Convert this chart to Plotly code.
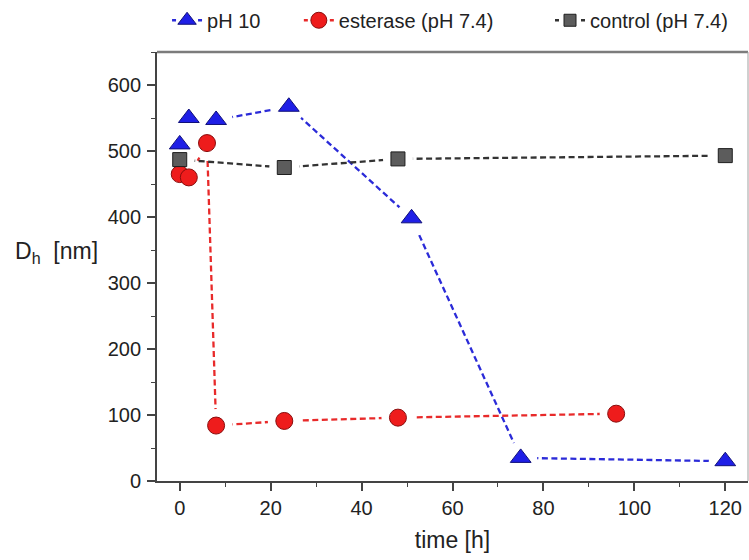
import plotly.graph_objects as go

# Hydrodynamic diameter over time for three conditions
t_ph10 = [0, 2, 8, 24, 51, 75, 120]
d_ph10 = [510, 550, 547, 567, 398, 35, 30]

t_esterase = [0, 2, 6, 8, 23, 48, 96]
d_esterase = [465, 460, 512, 84, 91, 96, 102]

t_control = [0, 23, 48, 120]
d_control = [487, 475, 488, 493]

series_names = ["pH 10", "esterase (pH 7.4)", "control (pH 7.4)"]

FONT = "Liberation Sans, Arial, sans-serif"
series = [
    dict(name=series_names[0], x=t_ph10, y=d_ph10, fill="#1f1fe6", edge="#10107a",
         line="#2b2bd8", symbol="triangle-up", size=18, halo=33, lsize=19,
         legend="legend", lx=0.017),
    dict(name=series_names[1], x=t_esterase, y=d_esterase, fill="#ee1c1c", edge="#8a0c0c",
         line="#e82a2a", symbol="circle", size=17, halo=33, lsize=17,
         legend="legend2", lx=0.24),
    dict(name=series_names[2], x=t_control, y=d_control, fill="#5c5c5c", edge="#1e1e1e",
         line="#333333", symbol="square", size=14, halo=30, lsize=12,
         legend="legend3", lx=0.665),
]

dash = "6px,3.5px"
fig = go.Figure()

# dashed connecting lines; white marker halos (drawn above the trace's own line)
# leave a small gap between the line and each symbol
for s in series:
    fig.add_trace(go.Scatter(x=s["x"], y=s["y"], mode="lines+markers",
                             line=dict(color=s["line"], width=2.3, dash=dash),
                             marker=dict(symbol="circle", size=s["halo"],
                                         color="white", line=dict(width=0)),
                             showlegend=False, hoverinfo="skip"))

# symbols
for s in series:
    fig.add_trace(go.Scatter(x=s["x"], y=s["y"], mode="markers", name=s["name"],
                             marker=dict(symbol=s["symbol"], size=s["size"],
                                         color=s["fill"],
                                         line=dict(color=s["edge"], width=1)),
                             showlegend=False))

# legend entries, one legend per series
for s in series:
    fig.add_trace(go.Scatter(x=[None], y=[None], mode="lines+markers", name=s["name"],
                             legend=s["legend"],
                             line=dict(color=s["line"], width=2.3, dash="4px,22px"),
                             marker=dict(symbol=s["symbol"], size=s["lsize"],
                                         color=s["fill"],
                                         line=dict(color=s["edge"], width=1))))

X_RANGE = [-5, 125]
Y_RANGE = [0, 650]

axis_common = dict(
    showline=True, linecolor="#444444", linewidth=1.8, mirror=False,
    ticks="outside", ticklen=8, tickwidth=1.5, tickcolor="#444444",
    showgrid=False, zeroline=False,
    tickfont=dict(family=FONT, size=20, color="#222222"),
)

legend_common = dict(orientation="h", y=1.074, yanchor="middle", xanchor="left",
                     font=dict(family=FONT, size=20, color="#222222"),
                     bgcolor="rgba(0,0,0,0)", itemwidth=30)

layout_legends = {s["legend"]: dict(x=s["lx"], **legend_common) for s in series}

fig.update_layout(
    width=749, height=560,
    margin=dict(l=157, r=1, t=48, b=79),
    paper_bgcolor="white", plot_bgcolor="white",
    font=dict(family=FONT, color="#222222"),
    xaxis=dict(range=X_RANGE, dtick=20, tick0=0,
               minor=dict(dtick=10, ticks="outside", ticklen=4, tickwidth=1.3,
                          tickcolor="#444444"),
               title=dict(text="time [h]", font=dict(family=FONT, size=23), standoff=14),
               **axis_common),
    yaxis=dict(range=Y_RANGE, dtick=100, tick0=0, ticklabelstandoff=2,
               minor=dict(dtick=50, ticks="outside", ticklen=4, tickwidth=1.3,
                          tickcolor="#444444"),
               **axis_common),
    shapes=[
        # frame: heavier top edge, light right edge
        dict(type="line", xref="paper", yref="paper", x0=0, x1=1, y0=1, y1=1,
             line=dict(color="#7c7c7c", width=2.5)),
        dict(type="line", xref="paper", yref="paper", x0=1, x1=1, y0=0, y1=1,
             line=dict(color="#a0a0a0", width=1)),
    ],
    annotations=[dict(text="D<sub>h</sub>&nbsp; [nm]", xref="paper", yref="paper",
                      x=-0.244, y=0.533, xanchor="left", yanchor="middle",
                      showarrow=False, font=dict(family=FONT, size=23, color="#222222"))],
    **layout_legends,
)

fig.write_html("out.html")
